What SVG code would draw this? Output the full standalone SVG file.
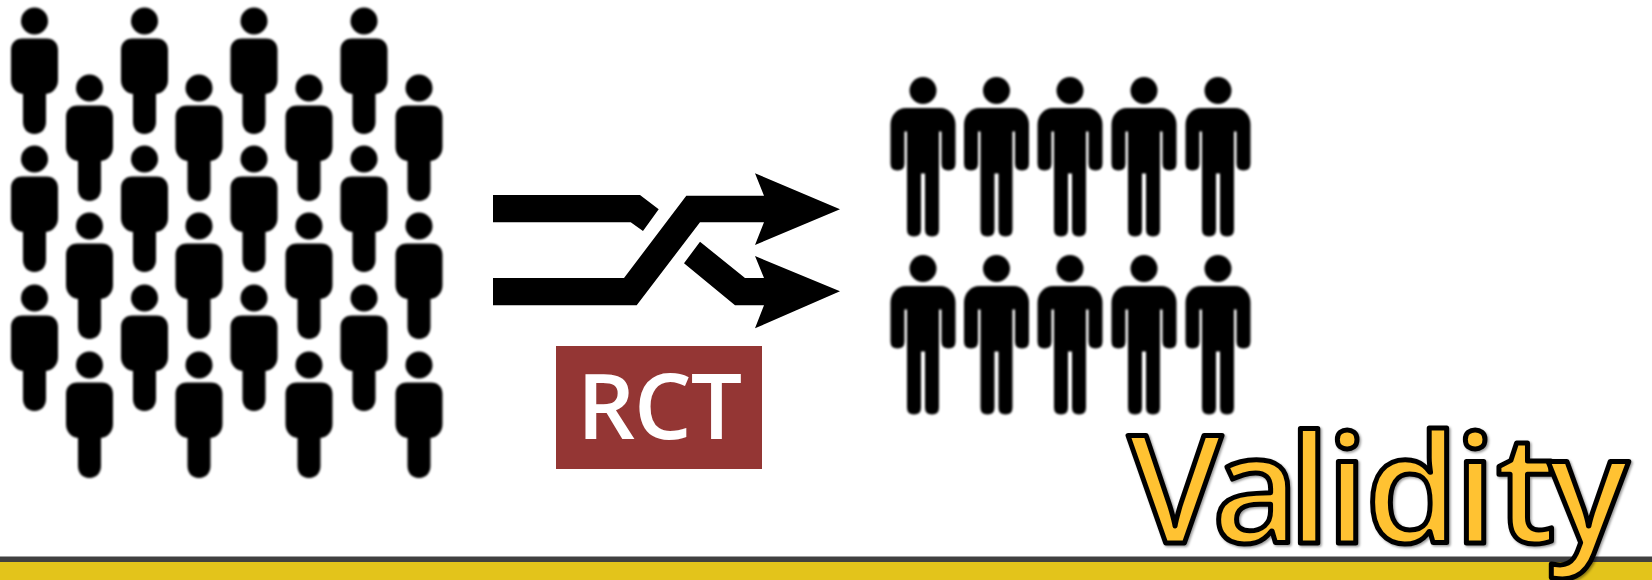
<svg xmlns="http://www.w3.org/2000/svg" width="1652" height="580" viewBox="0 0 1652 580">
<style>
.t{font-family:"Open Sans","Noto Sans","Liberation Sans",sans-serif}
.v{font-size:151px;font-weight:600;fill:#FFC232;stroke:#000;stroke-width:5px;stroke-linejoin:round}
.r{font-size:91px;font-weight:550;fill:#fff;letter-spacing:-1px}
</style>
<defs>
<filter id="soft" x="-5%" y="-5%" width="110%" height="110%"><feGaussianBlur stdDeviation="0.9"/></filter>
<filter id="sh" x="-3%" y="-5%" width="106%" height="115%"><feDropShadow dx="1.5" dy="1.5" stdDeviation="1.2" flood-color="#000" flood-opacity="0.4"/></filter>
<g id="pawn">
<circle cx="0" cy="0" r="13.5"/>
<path d="M-12,17.500H12C19,17.500 23.500,22 23.500,29V59C23.500,67 18,72.500 11.500,73V101C11.500,108 7,113 0,113C-7,113 -11.500,108 -11.500,101V73C-18,72.500 -23.500,67 -23.500,59V29C-23.500,22 -19,17.500 -12,17.500Z"/>
</g>
<g id="man">
<circle cx="0" cy="0" r="13.5"/>
<path d="M-17,17.500H17C26,17.500 32.500,25 32.500,34V73Q32.500,80 25.500,80Q18.500,80 18.500,73V41H16V139Q16,146 9,146Q2,146 2,139V83H-2V139Q-2,146 -9,146Q-16,146 -16,139V41H-18.500V73Q-18.500,80 -25.500,80Q-32.500,80 -32.500,73V34C-32.500,25 -26,17.500 -17,17.500Z"/>
</g>
</defs>
<rect width="1652" height="580" fill="#fff"/>
<g id="crowd" filter="url(#soft)">
<use href="#pawn" x="34.500" y="21"/><use href="#pawn" x="34.500" y="159"/><use href="#pawn" x="34.500" y="298"/>
<use href="#pawn" x="89.500" y="88"/><use href="#pawn" x="89.500" y="226"/><use href="#pawn" x="89.500" y="365"/>
<use href="#pawn" x="144.500" y="21"/><use href="#pawn" x="144.500" y="159"/><use href="#pawn" x="144.500" y="298"/>
<use href="#pawn" x="199" y="88"/><use href="#pawn" x="199" y="226"/><use href="#pawn" x="199" y="365"/>
<use href="#pawn" x="254" y="21"/><use href="#pawn" x="254" y="159"/><use href="#pawn" x="254" y="298"/>
<use href="#pawn" x="309" y="88"/><use href="#pawn" x="309" y="226"/><use href="#pawn" x="309" y="365"/>
<use href="#pawn" x="364" y="21"/><use href="#pawn" x="364" y="159"/><use href="#pawn" x="364" y="298"/>
<use href="#pawn" x="419" y="88"/><use href="#pawn" x="419" y="226"/><use href="#pawn" x="419" y="365"/>
</g>
<g id="sample" filter="url(#soft)">
<use href="#man" x="923" y="90.500"/><use href="#man" x="996.500" y="90.500"/><use href="#man" x="1070" y="90.500"/><use href="#man" x="1144" y="90.500"/><use href="#man" x="1218" y="90.500"/>
<use href="#man" x="923" y="268.500"/><use href="#man" x="996.500" y="268.500"/><use href="#man" x="1070" y="268.500"/><use href="#man" x="1144" y="268.500"/><use href="#man" x="1218" y="268.500"/>
</g>
<g id="connectors">
<path d="M493,195H640L658.700,209.300L643,231L630.700,222.300H493Z"/>
<path d="M493,278H624L686.300,195.700H764L755,173.300L840,209.300L755,245L764,222.300H700L636.700,305.300H493Z"/>
<path d="M700,241.700L745,278H764L755,256L840,291.300L755,328.300L764,305.300H735L684,263.300Z"/>
</g>
<g id="rct">
<rect x="556" y="346" width="206" height="123" fill="#943634"/>
<text class="t r" x="659" y="438.700" text-anchor="middle">RCT</text>
</g>
<g id="bar">
<rect x="0" y="556.500" width="1652" height="6" fill="#404040"/>
<rect x="0" y="562" width="1652" height="18" fill="#E3C41B"/>
</g>
<text id="validity" class="t v" x="1128 1212 1288 1326 1365 1454 1496 1548" y="543" filter="url(#sh)">Validity</text>
</svg>
